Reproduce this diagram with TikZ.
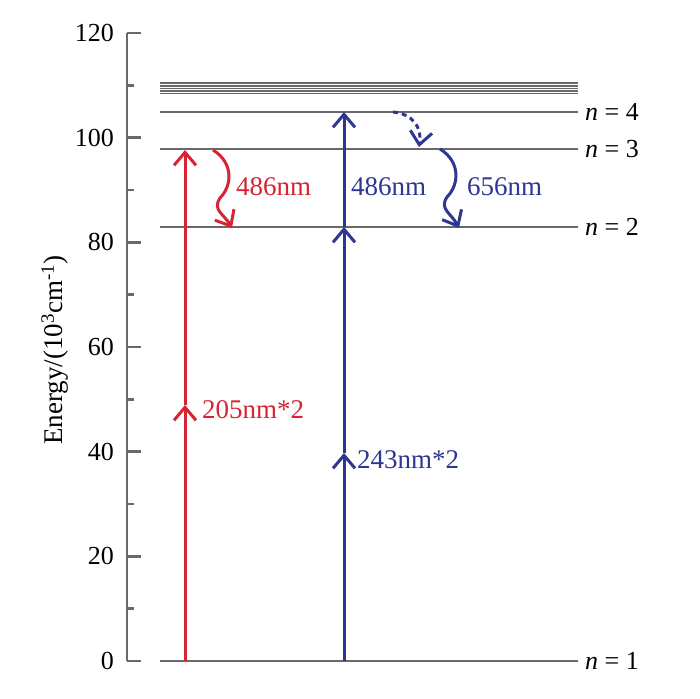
\documentclass[tikz,border=0pt]{standalone}
\usepackage{fontspec}
\setmainfont{Liberation Serif}
\usetikzlibrary{arrows.meta}
\definecolor{lvlgray}{RGB}{105,105,105}
\definecolor{myred}{RGB}{215,35,50}
\definecolor{myblue}{RGB}{45,55,145}
\tikzset{
  level/.style={draw=lvlgray,line width=2.6pt},
  thin level/.style={draw=lvlgray,line width=1.6pt},
  axisline/.style={draw=lvlgray,line width=2.6pt},
  tip/.style={-{Straight Barb[length=13pt,width=22pt,line width=3pt]}},
  redarr/.style={draw=myred,line width=3pt,tip},
  bluearr/.style={draw=myblue,line width=3pt,tip},
  ticklab/.style={anchor=east,inner sep=0pt,font=\fontsize{26}{30}\selectfont},
  nlab/.style={anchor=west,inner sep=0pt,font=\fontsize{26}{30}\selectfont},
  redlab/.style={anchor=west,inner sep=0pt,text=myred,font=\fontsize{27}{31}\selectfont},
  bluelab/.style={anchor=west,inner sep=0pt,text=myblue,font=\fontsize{27}{31}\selectfont},
}
\begin{document}
\begin{tikzpicture}[x=1pt,y=-1pt]
\useasboundingbox (0,0) rectangle (700,698);
% axis
\coordinate (axb) at (127,661);
\coordinate (axt) at (127,33);
\draw[axisline] (axb) -- (axt);
\foreach \v/\yy in {0/661,20/556.3,40/451.7,60/347,80/242.3,100/137.7,120/33}{
  \draw[axisline] (127,\yy) -- (141,\yy);
  \node[ticklab] (t\v) at (114,\yy) {\v};
}
\foreach \yy in {608.7,504,399.3,294.7,190,85.3}{
  \draw[axisline] (127,\yy) -- (134,\yy);
}
\node[rotate=90,inner sep=0pt,font=\fontsize{27}{31}\selectfont] (ylab) at (55,350) {Energy/(10\textsuperscript{3}cm\textsuperscript{-1})};
% levels
\foreach \nm/\yy in {n1/661,n2/227,n3/149,n4/112}{
  \coordinate (\nm L) at (160,\yy);
  \coordinate (\nm R) at (578,\yy);
  \draw[level] (\nm L) -- (\nm R);
}
\foreach \i/\yy in {a/83,b/86,c/88.5,d/91,e/93.5}{
  \coordinate (top\i L) at (160,\yy);
  \coordinate (top\i R) at (578,\yy);
  \draw[thin level] (top\i L) -- (top\i R);
}
\node[nlab] (l1) at (585,661) {\textit{n} = 1};
\node[nlab] (l2) at (585,227) {\textit{n} = 2};
\node[nlab] (l3) at (585,149) {\textit{n} = 3};
\node[nlab] (l4) at (585,112) {\textit{n} = 4};
% red excitation
\coordinate (r0) at (185,661);
\coordinate (r1) at (185,405);
\coordinate (r2) at (185,150);
\draw[redarr] (r0) -- (r1);
\draw[redarr] (r1) -- (r2);
\node[redlab] (r205) at (202,410) {205nm*2};
% blue excitation
\coordinate (b0) at (344,661);
\coordinate (b1) at (344,453);
\coordinate (b2) at (344,227);
\coordinate (b3) at (344,112);
\draw[bluearr] (b0) -- (b1);
\draw[bluearr] (b1) -- (b2);
\draw[bluearr] (b2) -- (b3);
\node[redlab] (r486) at (236,187) {486nm};
\node[bluelab] (b486) at (351,187) {486nm};
\node[bluelab] (b656) at (467,187) {656nm};
\node[bluelab] (b243) at (357,460) {243nm*2};
% wavy emission arrows
\coordinate (rw0) at (213,150);
\coordinate (rw1) at (220,198);
\coordinate (rw2) at (232,228);
\draw[redarr] (rw0) .. controls (234,163) and (232,186) .. (rw1) .. controls (212,210) and (224,214) .. (rw2);
\coordinate (bw0) at (440,149);
\coordinate (bw1) at (447,197);
\coordinate (bw2) at (459,228);
\draw[bluearr] (bw0) .. controls (461,162) and (459,185) .. (bw1) .. controls (439,209) and (451,213) .. (bw2);
% dashed
\coordinate (d0) at (393,112);
\coordinate (d1) at (419,147);
\draw[bluearr,dash pattern=on 5pt off 4pt] (d0) .. controls (412,114) and (422,126) .. (d1);
\end{tikzpicture}
\end{document}
